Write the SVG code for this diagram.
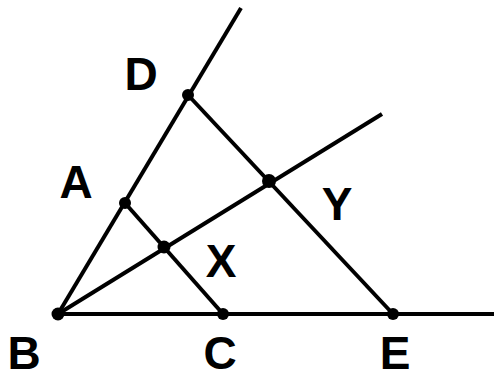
<svg xmlns="http://www.w3.org/2000/svg" width="494" height="380" viewBox="0 0 494 380">
<style>
.ln{stroke:#000;stroke-width:4;fill:none;stroke-linecap:butt}
.pt{fill:#000}
.lb{font-family:"Liberation Sans",Arial,sans-serif;font-weight:bold;font-size:46px;fill:#000;text-anchor:middle}
</style>
<rect width="494" height="380" fill="#fff"/>
<g id="connectors">
<line class="ln" x1="58" y1="314" x2="494" y2="314"/>
<line class="ln" x1="58" y1="314" x2="241" y2="8"/>
<line class="ln" x1="58" y1="314" x2="382" y2="114"/>
<line class="ln" x1="125" y1="203" x2="223" y2="314"/>
<line class="ln" x1="188" y1="95" x2="393" y2="314"/>
</g>
<g id="B"><circle class="pt" cx="58" cy="314" r="6.5"/><text class="lb" x="24" y="369">B</text></g>
<g id="C"><circle class="pt" cx="223" cy="314" r="6"/><text class="lb" x="220" y="369">C</text></g>
<g id="E"><circle class="pt" cx="393" cy="314" r="6"/><text class="lb" x="395" y="369">E</text></g>
<g id="A"><circle class="pt" cx="125" cy="203" r="6"/><text class="lb" x="76" y="198">A</text></g>
<g id="D"><circle class="pt" cx="188" cy="95" r="6"/><text class="lb" x="141" y="90">D</text></g>
<g id="X"><circle class="pt" cx="164" cy="247" r="6.5"/><text class="lb" x="221" y="277">X</text></g>
<g id="Y"><circle class="pt" cx="269" cy="181" r="7"/><text class="lb" x="337" y="220">Y</text></g>
</svg>
